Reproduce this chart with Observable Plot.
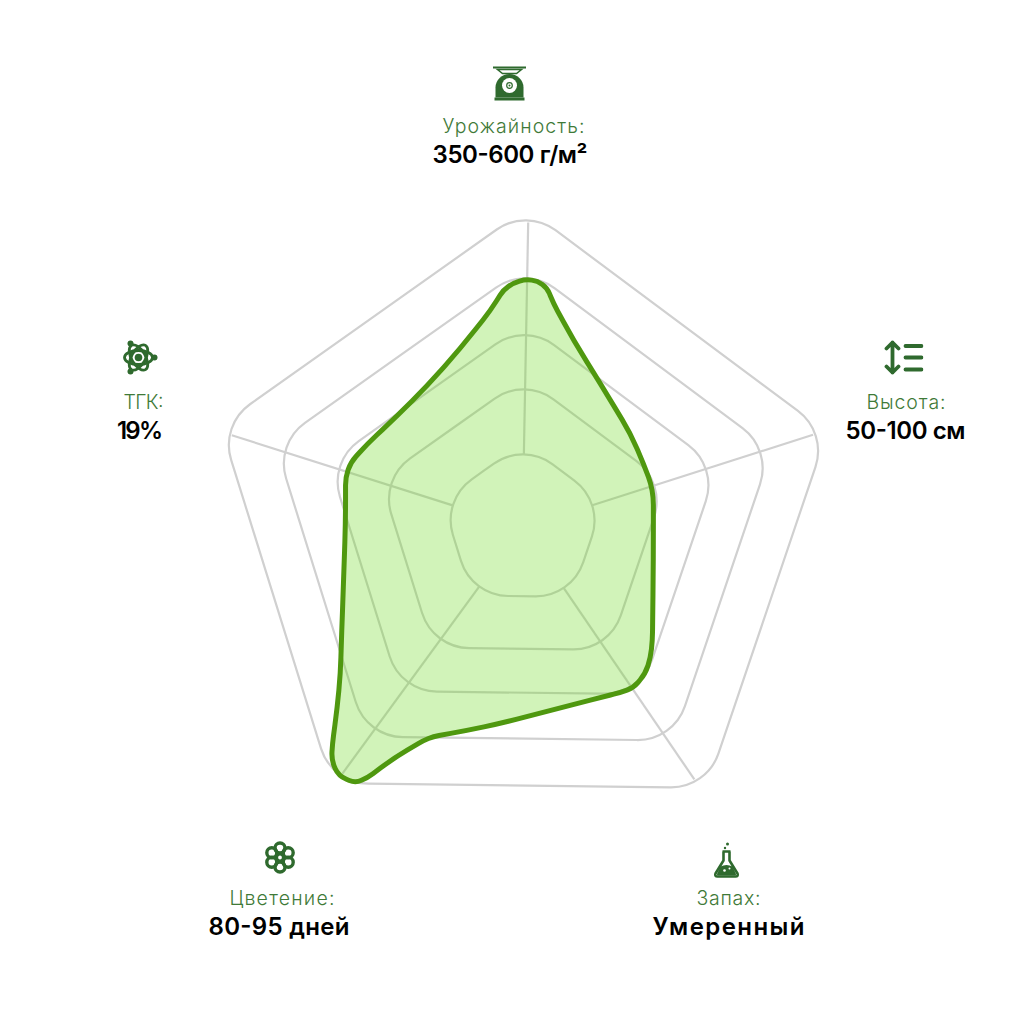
<!DOCTYPE html>
<html lang="ru">
<head>
<meta charset="utf-8">
<style>html,body{margin:0;padding:0;background:#fff}svg{display:block}</style>
<script src="https://cdn.jsdelivr.net/npm/d3@7"></script>
<script src="https://cdn.jsdelivr.net/npm/@observablehq/plot@0.6"></script>
</head>
<body>
<script>
// Categories and their printed values (clockwise from the top)
const categories = ["Урожайность:", "Высота:", "Запах:", "Цветение:", "ТГК:"];
const valueLabels = ["350-600 г/м²", "50-100 см", "Умеренный", "80-95 дней", "19%"];

// Grid: ring levels in percent of the outer ring, bearings in degrees
const ringLevels = [26.6, 47, 64, 81.8, 100];
const ringBearings = [0.7, 72.7, 144.7, 216.7, 288.7];
const spokeBearings = [1.07, 72.3, 145.7, 216.2, 287.6];
const spokeFrom = 22.7, spokeTo = 95.6;

// Profile outline, percent of the outer ring from the centre
const profileX = [0.3,4.1,7.1,9.1,15.4,23.8,33.2,37.3,40.4,40.4,40.1,39.5,37.9,34.2,30.1,23.8,-7.5,-17.9,-28.5,-31.7,-41.1,-49.2,-53,-58.3,-60.5,-60.2,-58.7,-57.7,-57.4,-56.7,-56.1,-56.1,-54.5,-49.2,-39.8,-30.4,-20.1,-10.7,-6.6,-3.4];
const profileY = [77.8,77.3,75.1,70.2,58.6,45.1,29.5,20.1,11.6,-10.3,-35.4,-40.8,-45.8,-50.2,-51.7,-53.3,-61.4,-63.6,-65.5,-66.8,-72.4,-78.4,-80.1,-77.9,-73,-67.7,-56.4,-45.8,-35.4,-16.6,2.2,15.7,20.4,26.3,35.1,44.5,56.1,68,74.5,76.7];

// Layout of the captions and icons on the 1020 px page
const W = 1020, H = 1020, CX = 524, CY = 527, K = 3.19, gridShift = -2 / K;
const ux = px => (px - CX) / K, uy = py => (CY - py) / K;
const categoryX = [513, 905.5, 728, 281.5, 143];
const valueX = [509.5, 905, 728, 278.5, 139.5];
const captionTop = [126, 402, 898, 898, 402];
const captionGap = 28.5;
const categoryWidths = [142, 79, 64, 105, 40];
const valueWidths = [155, 120, 152, 141, 46];
const iconX = [509, 903, 726, 279.5, 139];
const iconY = [83, 357, 860, 857, 357];
const iconSize = 40;

const G = "#2f6a2e";
const svgUri = body => "data:image/svg+xml;utf8," + encodeURIComponent(
  `<svg xmlns="http://www.w3.org/2000/svg" viewBox="0 0 40 40" width="40" height="40">${body}</svg>`);
const iconArt = [
  // scales
  `<rect x="3.500" y="3" width="33" height="2" fill="${G}"/><path d="M8 6H32L27 10H13Z" fill="none" stroke="${G}" stroke-width="1.500"/>
   <path d="M6 34V24A14 13.500 0 0 1 34 24V34Z" fill="${G}"/><rect x="5" y="34" width="30" height="3" fill="${G}"/>
   <circle cx="20" cy="22" r="7.500" fill="#fff"/><circle cx="20" cy="22" r="2.800" fill="none" stroke="${G}" stroke-width="1.200"/><circle cx="20" cy="22" r="1" fill="${G}"/>`,
  // height
  `<g fill="none" stroke="${G}" stroke-width="3.800" stroke-linecap="round" stroke-linejoin="round"><path d="M9 5V35M3 11L9 5L15 11M3 29L9 35L15 29"/><path d="M22 8.500H38M22 20H38M22 32H38"/></g>`,
  // flask
  `<circle cx="21" cy="3.500" r="1.500" fill="${G}"/><circle cx="18.500" cy="7.500" r="1.200" fill="${G}"/>
   <path d="M16 11H24M17 11V20L9 33Q8 36 11 36H29Q32 36 31 33L23 20V11" fill="none" stroke="${G}" stroke-width="2.600" stroke-linejoin="round"/>
   <path d="M14 26Q20 23 26 26L29.500 33.500Q30 35 28 35H12Q10 35 10.500 33.500Z" fill="${G}"/><circle cx="18" cy="30" r="1.300" fill="#fff"/><circle cx="23" cy="28" r="1" fill="#fff"/>`,
  // flower
  `<g fill="none" stroke="${G}" stroke-width="3.400"><circle cx="20" cy="10.500" r="5"/><circle cx="28.200" cy="15.250" r="5"/><circle cx="28.200" cy="24.750" r="5"/><circle cx="20" cy="29.500" r="5"/><circle cx="11.800" cy="24.750" r="5"/><circle cx="11.800" cy="15.250" r="5"/><circle cx="20" cy="20" r="3" stroke-width="2.200"/></g>`,
  // atom
  `<g fill="none" stroke="${G}" stroke-width="2.800"><ellipse cx="19" cy="20" rx="14" ry="7"/><ellipse cx="19" cy="20" rx="14" ry="7" transform="rotate(60 19 20)"/><ellipse cx="19" cy="20" rx="14" ry="7" transform="rotate(120 19 20)"/><circle cx="19" cy="20" r="7.500" stroke-width="2.200"/></g>
   <circle cx="19" cy="20" r="3.800" fill="${G}"/><circle cx="35" cy="20" r="3" fill="${G}"/><circle cx="11" cy="6" r="3" fill="${G}"/><circle cx="11" cy="34" r="3" fill="${G}"/>`
];

// Rings with constant-radius rounded corners
class RoundedRing {
  constructor(ctx, radius) { this.ctx = ctx; this.radius = radius; }
  areaStart() {} areaEnd() {}
  lineStart() { this.pts = []; }
  point(x, y) { this.pts.push([+x, +y]); }
  lineEnd() {
    const p = this.pts, n = p.length, c = this.ctx;
    c.moveTo((p[n - 1][0] + p[0][0]) / 2, (p[n - 1][1] + p[0][1]) / 2);
    for (let i = 0; i < n; ++i) {
      const a = p[i], b = p[(i + 1) % n];
      c.arcTo(a[0], a[1], b[0], b[1], this.radius);
    }
    c.closePath();
  }
}
const roundedRing = ctx => new RoundedRing(ctx, 50);

// Traced outline: straight runs stay straight, short steps blend into each other
class SoftOutline extends RoundedRing {
  lineEnd() {
    const p = this.pts, n = p.length, c = this.ctx;
    const toward = (a, b, t) => {
      const l = Math.hypot(b[0] - a[0], b[1] - a[1]);
      return [a[0] + (b[0] - a[0]) * t / l, a[1] + (b[1] - a[1]) * t / l];
    };
    p.forEach((v, i) => {
      const prev = p[(i + n - 1) % n], next = p[(i + 1) % n];
      const t = Math.min(Math.hypot(v[0] - prev[0], v[1] - prev[1]), Math.hypot(v[0] - next[0], v[1] - next[1])) / 2;
      const s = toward(v, prev, t), e = toward(v, next, t);
      if (i === 0) c.moveTo(s[0], s[1]); else c.lineTo(s[0], s[1]);
      c.quadraticCurveTo(v[0], v[1], e[0], e[1]);
    });
    c.closePath();
  }
}
const softOutline = ctx => new SoftOutline(ctx, 0);

const rad = d => d * Math.PI / 180;
const ringPoints = ringLevels.flatMap(level => ringBearings.map(b => ({
  level, x: gridShift + level * Math.sin(rad(b)), y: level * Math.cos(rad(b))
})));
const spokes = spokeBearings.map(b => ({
  x1: gridShift + spokeFrom * Math.sin(rad(b)), y1: spokeFrom * Math.cos(rad(b)),
  x2: gridShift + spokeTo * Math.sin(rad(b)), y2: spokeTo * Math.cos(rad(b))
}));
const profile = profileX.map((x, i) => ({x, y: profileY[i]}));
const captions = categories.map((c, i) => ({
  category: c, value: valueLabels[i],
  cx: ux(categoryX[i]), vx: ux(valueX[i]),
  y: uy(captionTop[i]), y2: uy(captionTop[i] + captionGap),
  ix: ux(iconX[i]), iy: uy(iconY[i]), src: svgUri(iconArt[i])
}));

const font = "Inter, 'Open Sans', sans-serif";
const chart = Plot.plot({
  width: W, height: H,
  margin: 0,
  x: {domain: [ux(0), ux(W)], range: [0, W], axis: null},
  y: {domain: [uy(H), uy(0)], range: [H, 0], axis: null},
  marks: [
    Plot.link(spokes, {x1: "x1", y1: "y1", x2: "x2", y2: "y2", stroke: "#d0d0d0", strokeWidth: 2.2}),
    Plot.line(ringPoints, {x: "x", y: "y", z: "level", curve: roundedRing, stroke: "#d0d0d0", strokeWidth: 2.2}),
    Plot.line(profile, {x: "x", y: "y", curve: softOutline, fill: "#6cd71c", fillOpacity: 0.31, stroke: "#4f980f", strokeWidth: 5, strokeLinejoin: "round"}),
    Plot.image(captions, {x: "ix", y: "iy", src: "src", width: iconSize, height: iconSize}),
    Plot.text(captions, {x: "cx", y: "y", text: "category", fontFamily: font, fontSize: 19.5, fontWeight: 300, fill: "#3f7a38", textAnchor: "middle", lineAnchor: "middle", className: "cat"}),
    Plot.text(captions, {x: "vx", y: "y2", text: "value", fontFamily: font, fontSize: 24, fontWeight: 600, fill: "#000", textAnchor: "middle", lineAnchor: "middle", className: "val"})
  ]
});
// The reference face runs wider than the installed one: fit each caption to its measured width
const fit = (selector, widths) => chart.querySelectorAll(selector + " text").forEach((t, i) => {
  t.setAttribute("textLength", widths[i]);
  t.setAttribute("lengthAdjust", "spacing");
});
fit("g.cat", categoryWidths);
fit("g.val", valueWidths);
document.body.appendChild(chart);
</script>
</body>
</html>
